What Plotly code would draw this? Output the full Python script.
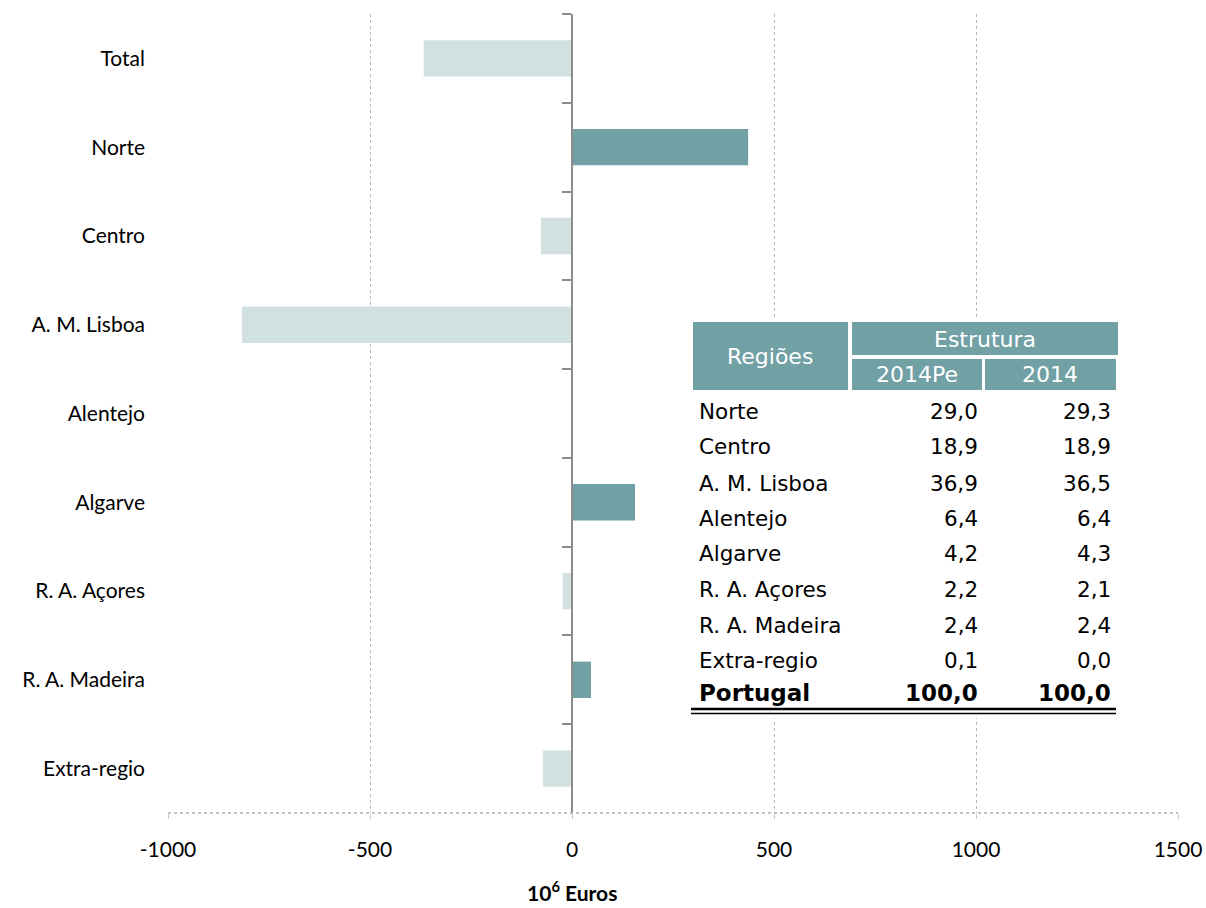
import plotly.graph_objects as go

# Regional change, 10^6 euros
regions = ["Total", "Norte", "Centro", "A. M. Lisboa", "Alentejo", "Algarve",
           "R. A. Açores", "R. A. Madeira", "Extra-regio"]
change = [-367, 436, -77, -817, 0, 156, -23, 47, -72]
x_ticks = [-1000, -500, 0, 500, 1000, 1500]
x_tick_labels = ["-1000", "-500", "0", "500", "1000", "1500"]

# Inset table: regional structure (%)
table_regions = ["Norte", "Centro", "A. M. Lisboa", "Alentejo", "Algarve",
                 "R. A. Açores", "R. A. Madeira", "Extra-regio"]
share_2014pe = [29.0, 18.9, 36.9, 6.4, 4.2, 2.2, 2.4, 0.1]
share_2014 = [29.3, 18.9, 36.5, 6.4, 4.3, 2.1, 2.4, 0.0]
total_label = "Portugal"
total_2014pe = 100.0
total_2014 = 100.0

TEAL = "#71a0a5"
LIGHT = "#d1e0e0"
W, H = 1206, 908
ML, MR, MT, MB = 168, 28, 14, 95
PW, PH = W - ML - MR, H - MT - MB
XMIN, XMAX = -1000, 1500


def px(x):
    return (x - ML) / PW


def py(y):
    return (H - MB - y) / PH


def fmt(v):
    return f"{v:.1f}".replace(".", ",")


colors = [TEAL if v > 0 else LIGHT for v in change]

fig = go.Figure()
fig.add_trace(go.Bar(x=change, y=regions, orientation="h", width=0.41,
                     marker=dict(color=colors, line=dict(width=0)),
                     hoverinfo="x+y"))
# carrier for the zero axis with category-boundary ticks
fig.add_trace(go.Scatter(x=[0] * len(regions), y=regions, yaxis="y2",
                         mode="markers", marker=dict(opacity=0),
                         hoverinfo="skip", showlegend=False))

tick_font = dict(family="Lato, sans-serif", size=21, color="#000")
fig.update_layout(
    width=W, height=H,
    margin=dict(l=ML, r=MR, t=MT, b=MB, autoexpand=False),
    plot_bgcolor="white", paper_bgcolor="white",
    showlegend=False,
    xaxis=dict(range=[XMIN, XMAX], tickvals=x_ticks, ticktext=x_tick_labels,
               automargin=False,
               showgrid=True, griddash="dot", gridcolor="#b8b8b8", gridwidth=1,
               zeroline=False, showline=False,
               ticks="outside", ticklen=5, tickcolor="#c8c8c8",
               tickfont=tick_font, ticklabelstandoff=13),
    yaxis=dict(type="category", categoryarray=regions, range=[8.5, -0.5],
               automargin=False,
               showgrid=False, zeroline=False, showline=False, ticks="",
               tickfont=tick_font, ticklabelstandoff=22),
    yaxis2=dict(type="category", categoryarray=regions, range=[8.5, -0.5],
                overlaying="y", anchor="free", automargin=False,
                position=(0 - XMIN) / (XMAX - XMIN),
                showgrid=False, zeroline=False, showticklabels=False,
                showline=True, linecolor="#8c8c8c", linewidth=2,
                ticks="outside", tickson="boundaries", ticklen=9,
                tickcolor="#8c8c8c", tickwidth=2),
)

shapes = []
annotations = []

# dotted category axis baseline
shapes.append(dict(type="line", xref="paper", yref="paper", x0=0, x1=1, y0=0, y1=0,
                   line=dict(color="#b0b0b0", width=1.5, dash="dot"), layer="above"))

# table background and header cells
shapes.append(dict(type="rect", xref="paper", yref="paper",
                   x0=px(689), x1=px(1121), y0=py(718), y1=py(318),
                   fillcolor="white", line=dict(width=0), layer="above"))
for (x0, x1, y0, y1) in [(693, 848, 322, 390), (852, 1118, 322, 355),
                         (852, 982, 359, 390), (985, 1116, 359, 390)]:
    shapes.append(dict(type="rect", xref="paper", yref="paper",
                       x0=px(x0), x1=px(x1), y0=py(y1), y1=py(y0),
                       fillcolor=TEAL, line=dict(width=0), layer="above"))
# double rule under the total row
shapes.append(dict(type="line", xref="paper", yref="paper", x0=px(691), x1=px(1116),
                   y0=py(709), y1=py(709), line=dict(color="black", width=2.5), layer="above"))
shapes.append(dict(type="line", xref="paper", yref="paper", x0=px(691), x1=px(1116),
                   y0=py(713.5), y1=py(713.5), line=dict(color="black", width=1.5), layer="above"))

tab_font = dict(family="DejaVu Sans, Verdana, sans-serif", size=21.5, color="#000")
head_font = dict(family="DejaVu Sans, Verdana, sans-serif", size=22, color="white")
bold_font = dict(family="DejaVu Sans, Verdana, sans-serif", size=23, color="#000")


def label(text, x, y, font, xanchor="center"):
    annotations.append(dict(text=text, x=px(x), y=py(y), xref="paper", yref="paper",
                            xanchor=xanchor, yanchor="middle", showarrow=False,
                            font=font))


label("Regiões", 770, 356, head_font)
label("Estrutura", 985, 339, head_font)
label("2014Pe", 917, 375, head_font)
label("2014", 1050, 375, head_font)

row_y = [411, 447, 483, 518, 553, 589, 625, 660]
for name, a, b, y in zip(table_regions, share_2014pe, share_2014, row_y):
    label(name, 697, y, tab_font, "left")
    label(fmt(a), 980, y, tab_font, "right")
    label(fmt(b), 1113, y, tab_font, "right")
label(f"<b>{total_label}</b>", 697, 693, bold_font, "left")
label(f"<b>{fmt(total_2014pe)}</b>", 980, 693, bold_font, "right")
label(f"<b>{fmt(total_2014)}</b>", 1113, 693, bold_font, "right")

# unit caption under the zero tick
annotations.append(dict(text="<b>10<sup>6</sup> Euros</b>", x=(0 - XMIN) / (XMAX - XMIN),
                        y=py(907), xref="paper", yref="paper", xanchor="center",
                        yanchor="bottom", showarrow=False,
                        font=dict(family="Lato, sans-serif", size=21, color="#000")))

fig.update_layout(shapes=shapes, annotations=annotations)
fig.write_html("out.html")
